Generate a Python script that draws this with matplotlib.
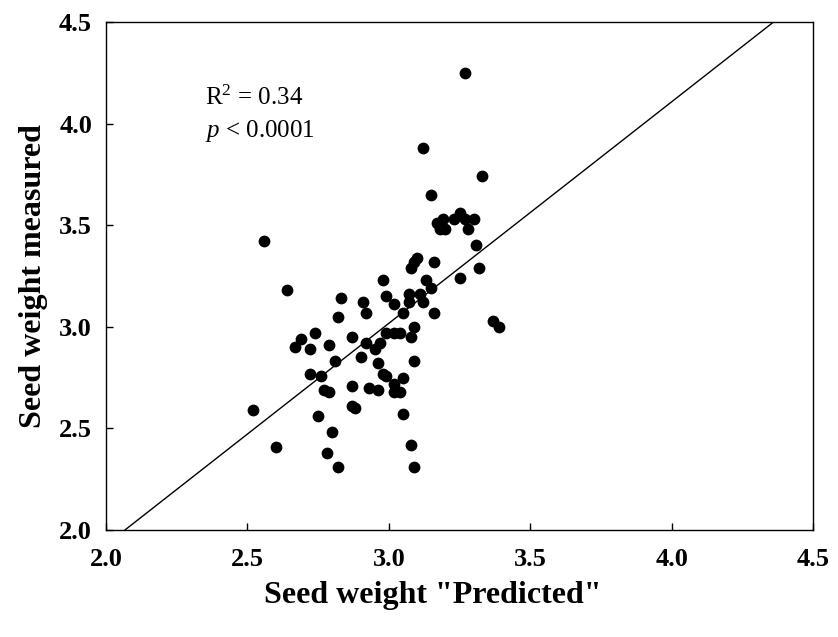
import numpy as np
import matplotlib
matplotlib.use('Agg')
import matplotlib.pyplot as plt

# data (predicted vs measured seed weight)
predicted = [3.27, 3.12, 3.33, 3.15, 3.17, 3.18, 3.19, 3.20, 3.23, 3.25,
             3.27, 3.28, 3.30, 3.31, 3.10, 3.09, 3.08, 3.16, 3.32, 3.25,
             3.13, 3.15, 3.07, 3.11, 3.07, 3.12, 3.16, 3.05, 3.37, 3.39,
             3.09, 2.56, 2.64, 2.83, 2.82, 2.74, 2.69, 2.67, 2.72, 2.79,
             2.87, 2.91, 2.92, 2.92, 2.97, 2.95, 2.98, 2.99, 3.02, 2.99,
             3.02, 3.04, 3.08, 2.81, 2.72, 2.76, 2.90, 2.96, 3.09, 2.98,
             2.99, 3.05, 3.02, 2.87, 2.93, 2.96, 2.77, 2.79, 3.02, 3.04,
             2.52, 2.87, 2.88, 2.75, 3.05, 2.80, 2.60, 3.08, 2.78, 2.82,
             3.09]
measured = [4.25, 3.88, 3.74, 3.65, 3.51, 3.48, 3.53, 3.48, 3.53, 3.56,
            3.53, 3.48, 3.53, 3.40, 3.34, 3.32, 3.29, 3.32, 3.29, 3.24,
            3.23, 3.19, 3.16, 3.16, 3.12, 3.12, 3.07, 3.07, 3.03, 3.00,
            3.00, 3.42, 3.18, 3.14, 3.05, 2.97, 2.94, 2.90, 2.89, 2.91,
            2.95, 3.12, 3.07, 2.92, 2.92, 2.89, 3.23, 3.15, 3.11, 2.97,
            2.97, 2.97, 2.95, 2.83, 2.77, 2.76, 2.85, 2.82, 2.83, 2.77,
            2.76, 2.75, 2.72, 2.71, 2.70, 2.69, 2.69, 2.68, 2.68, 2.68,
            2.59, 2.61, 2.60, 2.56, 2.57, 2.48, 2.41, 2.42, 2.38, 2.31,
            2.31]

# regression line y = slope*x + intercept
slope = 1.090
intercept = -0.253

plt.rcParams['font.family'] = ['Liberation Serif', 'DejaVu Serif']
plt.rcParams['mathtext.fontset'] = 'custom'
plt.rcParams['mathtext.rm'] = 'Liberation Serif'
plt.rcParams['mathtext.it'] = 'Liberation Serif:italic'

fig = plt.figure(figsize=(8.38, 6.37), dpi=100)
ax = fig.add_axes([0.1265, 0.168, 0.8437, 0.7975])

ax.scatter(predicted, measured, s=72, color='black', zorder=3, linewidths=0)

xl = np.array([1.9, 4.6])
ax.plot(xl, slope * xl + intercept, color='black', lw=1.0)

ax.set_xlim(2.0, 4.5)
ax.set_ylim(2.0, 4.5)
ticks = [2.0, 2.5, 3.0, 3.5, 4.0, 4.5]
ax.set_xticks(ticks)
ax.set_yticks(ticks)
ax.set_xticklabels(['%.1f' % t for t in ticks], fontweight='bold', fontsize=19)
ax.set_yticklabels(['%.1f' % t for t in ticks], fontweight='bold', fontsize=19)
ax.tick_params(direction='in', length=5, width=1, top=False, right=False)
ax.tick_params(axis='x', pad=13)
ax.tick_params(axis='y', pad=10)
for sp in ax.spines.values():
    sp.set_linewidth(1.0)

ax.set_xlabel('Seed weight "Predicted"', fontsize=23, fontweight='bold')
ax.set_ylabel('Seed weight measured', fontsize=23, fontweight='bold')
ax.xaxis.set_label_coords(0.4625, -0.101)
ax.yaxis.set_label_coords(-0.082, 0.5)

ax.text(2.35, 4.09, r'R$^2$ = 0.34', fontsize=18, va='baseline')
ax.text(2.35, 3.935, r'$p$ < 0.0001', fontsize=18, va='baseline')

fig.savefig('out.png', dpi=100)
